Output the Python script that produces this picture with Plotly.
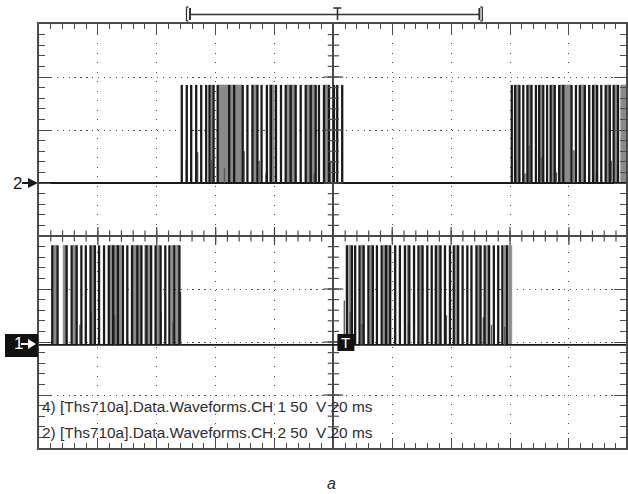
import numpy as np
import plotly.graph_objects as go

# ---- acquisition settings: 20 ms/div, 50 V/div, trigger at t = 0 ----
time_range = [-100, 99.4]
volt_range = [-200, 200]

ch2_offset = 50.0       # V, screen position of channel 2 ground
ch1_offset = -102.8     # V, screen position of channel 1 ground
ch2_amplitude = 92.5    # V
ch1_amplitude = 94.0    # V

# ---- channel 1 (CH1): pulse edges, wide (grey) pulses, small ringing spikes ----
ch1_edges = [-95.5, -93.7, -90.6, -88.9, -87.2, -85.6, -84.1, -82.5, -81.0, -79.6,
             -77.9, -76.3, -74.8, -73.2, -71.5, -70.0, -68.4, -66.6, -65.2, -63.5,
             -61.9, -60.4, -58.7, -57.1, -55.7, -54.0, -52.3,
             4.6, 6.3, 7.4, 8.9, 10.3, 11.9, 13.4, 14.8, 16.4, 17.9, 19.3, 21.0,
             22.6, 24.3, 25.8, 27.4, 28.9, 30.3, 31.9, 33.4, 34.8, 36.4, 37.9, 39.6,
             40.9, 42.4, 43.9, 45.5, 46.9, 48.6, 50.0, 51.4, 52.9, 54.5, 56.0, 57.4,
             59.0]
ch1_wide_start = [-95.2, -91.8, -88.4, -82.2, -76.0, -68.4, -66.4, -64.1, -60.2, -55.1,
                  -53.4, 5.2, 9.4, 12.4, 16.9, 25.0, 29.4, 35.3, 41.4, 49.0, 52.0,
                  58.0, 59.6]
ch1_wide_end = [-94.0, -90.6, -87.2, -81.0, -72.0, -66.9, -65.2, -62.1, -59.0, -54.0,
                -52.3, 6.2, 10.2, 13.3, 19.2, 25.7, 30.2, 36.3, 42.3, 49.9, 52.8,
                58.9, 60.6]
ch1_spike_t = [-86.1, -82.2, -74.3, -61.9, -58.5, -54.5, -51.9,
               3.7, 5.7, 9.7, 13.6, 25.5, 38.4, 50.9, 53.7, 58.2]
ch1_spike_v = [19, 31, 28, 20, 31, 22, 50,
               42, 31, 20, 9, 19, 28, 26, 19, 17]

# ---- channel 2 (CH2) ----
ch2_edges = [-51.5, -49.8, -48.3, -46.6, -44.9, -43.2, -42.1, -40.7, -39.3, -35.4,
             -33.7, -30.8, -29.2, -27.5, -25.8, -24.4, -22.6, -21.2, -19.5, -17.8,
             -16.2, -14.5, -12.8, -11.1, -9.4, -7.7, -6.0, -4.9, -3.2, -1.5, 0.2,
             1.3, 3.0,
             60.6, 61.7, 63.2, 64.5, 65.9, 67.3, 68.8, 69.9, 71.3, 72.6, 73.8, 75.2,
             76.7, 78.1, 80.9, 82.4, 83.7, 85.4, 86.9, 88.2, 89.6, 91.0, 92.5, 93.9,
             95.2, 96.7]
ch2_wide_start = [-42.1, -39.3, -27.5, -21.8, -16.0, -14.3, -9.2, -7.5, -3.0,
                  61.9, 66.1, 70.2, 74.0, 77.0, 78.4, 84.0, 88.5, 92.8, 95.5, 97.6]
ch2_wide_end = [-40.8, -30.9, -25.9, -20.1, -14.6, -12.9, -7.8, -6.1, -1.6,
                63.0, 67.1, 71.1, 75.0, 78.0, 80.7, 85.2, 89.4, 93.7, 96.5, 99.4]
ch2_spike_t = [-50.0, -46.1, -41.5, -37.0, -30.3, -25.2, -22.9, -6.6, -0.9,
               62.0, 65.1, 66.5, 70.7, 75.8, 81.7, 89.3, 94.4]
ch2_spike_v = [22, 29, 22, 14, 30, 21, 9, 9, 21,
               22, 9, 35, 24, 10, 31, 9, 21]

# ---- readout text ----
readout_lines = ["4) [Ths710a].Data.Waveforms.CH 1 50\u00a0\u00a0V 20 ms",
                 "2) [Ths710a].Data.Waveforms.CH 2 50\u00a0\u00a0V 20 ms"]
caption = "a"

INK = "#1a1a1a"
GREY = "#8a8a8a"
GRAT = "#4a4a4a"
TEXT = "#2e2e2e"


def channel_traces(edges, w_start, w_end, spk_t, spk_v, base, amp):
    top = base + amp
    traces = []
    # wide pulses rendered as grey bands
    gx, gy = [], []
    for a, b in zip(w_start, w_end):
        gx += [a, a, b, b, a, None]
        gy += [base, top, top, base, base, None]
    traces.append(go.Scatter(x=gx, y=gy, mode="lines", fill="toself",
                             fillcolor=GREY, line=dict(color=GREY, width=0.6),
                             hoverinfo="skip", showlegend=False))
    # ground line of the channel
    traces.append(go.Scatter(x=time_range, y=[base, base], mode="lines",
                             line=dict(color=INK, width=1.8),
                             hoverinfo="skip", showlegend=False))
    # ringing spikes
    sx, sy = [], []
    for t, v in zip(spk_t, spk_v):
        sx += [t, t, None]
        sy += [base, base + v, None]
    traces.append(go.Scatter(x=sx, y=sy, mode="lines",
                             line=dict(color="#555555", width=1.3),
                             hoverinfo="skip", showlegend=False))
    # switching edges
    ex, ey = [], []
    for t in edges:
        ex += [t, t, None]
        ey += [base, top, None]
    traces.append(go.Scatter(x=ex, y=ey, mode="lines",
                             line=dict(color=INK, width=2.3),
                             hoverinfo="skip", showlegend=False))
    return traces


fig = go.Figure()
for tr in channel_traces(ch2_edges, ch2_wide_start, ch2_wide_end,
                         ch2_spike_t, ch2_spike_v, ch2_offset, ch2_amplitude):
    fig.add_trace(tr)
for tr in channel_traces(ch1_edges, ch1_wide_start, ch1_wide_end,
                         ch1_spike_t, ch1_spike_v, ch1_offset, ch1_amplitude):
    fig.add_trace(tr)

# graticule: crossing ticks on the centre lines
hx_minor = np.arange(-96, 99, 4)
hx_major = np.arange(-80, 99, 20)
vy_minor = np.arange(-190, 200, 10)
vy_major = np.arange(-150, 200, 50)
fig.add_trace(go.Scatter(x=hx_minor, y=np.zeros_like(hx_minor), mode="markers",
                         marker=dict(symbol="line-ns", size=8,
                                     line=dict(color=GRAT, width=1.2)),
                         hoverinfo="skip", showlegend=False))
fig.add_trace(go.Scatter(x=hx_major, y=np.zeros_like(hx_major), mode="markers",
                         marker=dict(symbol="line-ns", size=13,
                                     line=dict(color=GRAT, width=1.2)),
                         hoverinfo="skip", showlegend=False))
fig.add_trace(go.Scatter(x=np.zeros_like(vy_minor), y=vy_minor, mode="markers",
                         marker=dict(symbol="line-ew", size=8,
                                     line=dict(color=GRAT, width=1.2)),
                         hoverinfo="skip", showlegend=False))
fig.add_trace(go.Scatter(x=np.zeros_like(vy_major), y=vy_major, mode="markers",
                         marker=dict(symbol="line-ew", size=14,
                                     line=dict(color=GRAT, width=1.2)),
                         hoverinfo="skip", showlegend=False))

shapes = []
# record-window bar above the screen
bar_y = 1.0224
bar_top, bar_bot = 1.0401, 1.0071
in_top, in_bot = 1.0377, 1.0094
seg = [
    (-48.7, bar_y, 49.6, bar_y, 1.5),
    (-49.9, bar_bot, -49.9, bar_top, 1.3),
    (-49.9, bar_top, -49.2, bar_top, 1.3),
    (-49.9, bar_bot, -49.2, bar_bot, 1.3),
    (-48.7, in_bot, -48.7, in_top, 2),
    (49.6, in_bot, 49.6, in_top, 2),
    (50.6, bar_bot, 50.6, bar_top, 1.3),
    (49.9, bar_top, 50.6, bar_top, 1.3),
    (49.9, bar_bot, 50.6, bar_bot, 1.3),
    (1.4, in_bot, 1.4, in_top, 1.6),
    (0.0, in_top, 2.7, in_top, 1.6),
]
for x0, y0, x1, y1, w in seg:
    shapes.append(dict(type="line", xref="x", yref="paper", x0=x0, y0=y0,
                       x1=x1, y1=y1, line=dict(color="#333333", width=w),
                       layer="above"))

arrow_path = "M -17,-1 L -11,-1 L -11,-5 L -1,0 L -11,5 L -11,1 L -17,1 Z"
# channel 2 ground marker
shapes.append(dict(type="path", xref="paper", xsizemode="pixel", xanchor=0,
                   yref="y", ysizemode="pixel", yanchor=ch2_offset,
                   path=arrow_path, fillcolor=INK, line=dict(width=0)))
# channel 1 ground marker (inverted box)
shapes.append(dict(type="rect", xref="paper", xsizemode="pixel", xanchor=0,
                   yref="y", ysizemode="pixel", yanchor=ch1_offset,
                   x0=-34, x1=-1, y0=-12, y1=11, fillcolor="#111111",
                   line=dict(width=0)))
shapes.append(dict(type="path", xref="paper", xsizemode="pixel", xanchor=0,
                   yref="y", ysizemode="pixel", yanchor=ch1_offset,
                   path="M -18,0 L -11,0 L -11,-4 L -3,1 L -11,6 L -11,2 L -18,2 Z",
                   fillcolor="white", line=dict(width=0)))
# trigger level marker
shapes.append(dict(type="rect", xref="x", xsizemode="pixel", xanchor=0,
                   yref="y", ysizemode="pixel", yanchor=ch1_offset,
                   x0=4, x1=21, y0=-6, y1=11, fillcolor="#111111",
                   line=dict(width=0)))

annotations = [
    dict(text="2", xref="paper", yref="y", x=(11 - 39) / 589, y=ch2_offset,
         showarrow=False, font=dict(size=17, color=INK)),
    dict(text="1", xref="paper", yref="y", x=(12 - 39) / 589, y=ch1_offset,
         yshift=1, showarrow=False, font=dict(size=17, color="white")),
    dict(text="T", xref="x", yref="y", x=4.1, y=ch1_offset, yshift=2.5,
         showarrow=False, font=dict(size=15, color="white")),
    dict(text=readout_lines[0], xref="paper", yref="paper", x=1 / 589, y=0.0967,
         xanchor="left", yanchor="middle", showarrow=False,
         font=dict(size=15.4, color=TEXT)),
    dict(text=readout_lines[1], xref="paper", yref="paper", x=1 / 589, y=0.0377,
         xanchor="left", yanchor="middle", showarrow=False,
         font=dict(size=15.4, color=TEXT)),
    dict(text=f"<i>{caption}</i>", xref="paper", yref="paper", x=0.499, y=-0.0849,
         xanchor="center", yanchor="middle", showarrow=False,
         font=dict(size=16, color=TEXT)),
]

axis_common = dict(showticklabels=False, ticks="inside", tickcolor=GRAT,
                   tickwidth=1.2, showline=True, linecolor=GRAT, linewidth=1.5,
                   mirror="allticks", showgrid=True, gridcolor=GRAT, gridwidth=1,
                   zeroline=True, zerolinecolor=GRAT, zerolinewidth=1.5,
                   layer="above traces", fixedrange=True)

fig.update_layout(
    width=628, height=494,
    margin=dict(l=39, r=0, t=24, b=46),
    paper_bgcolor="white", plot_bgcolor="white",
    font=dict(family="Liberation Sans, Arial, sans-serif"),
    xaxis=dict(range=time_range, tick0=0, dtick=20, ticklen=10,
               griddash="1.3px,8.2px",
               minor=dict(dtick=4, ticks="inside", ticklen=5, tickcolor=GRAT,
                          tickwidth=1.2, showgrid=False),
               **axis_common),
    yaxis=dict(range=volt_range, tick0=0, dtick=50, ticklen=12,
               griddash="1.3px,4.6px",
               minor=dict(dtick=10, ticks="inside", ticklen=6, tickcolor=GRAT,
                          tickwidth=1.2, showgrid=False),
               **axis_common),
    shapes=shapes,
    annotations=annotations,
    showlegend=False,
)

fig.write_html("out.html")
